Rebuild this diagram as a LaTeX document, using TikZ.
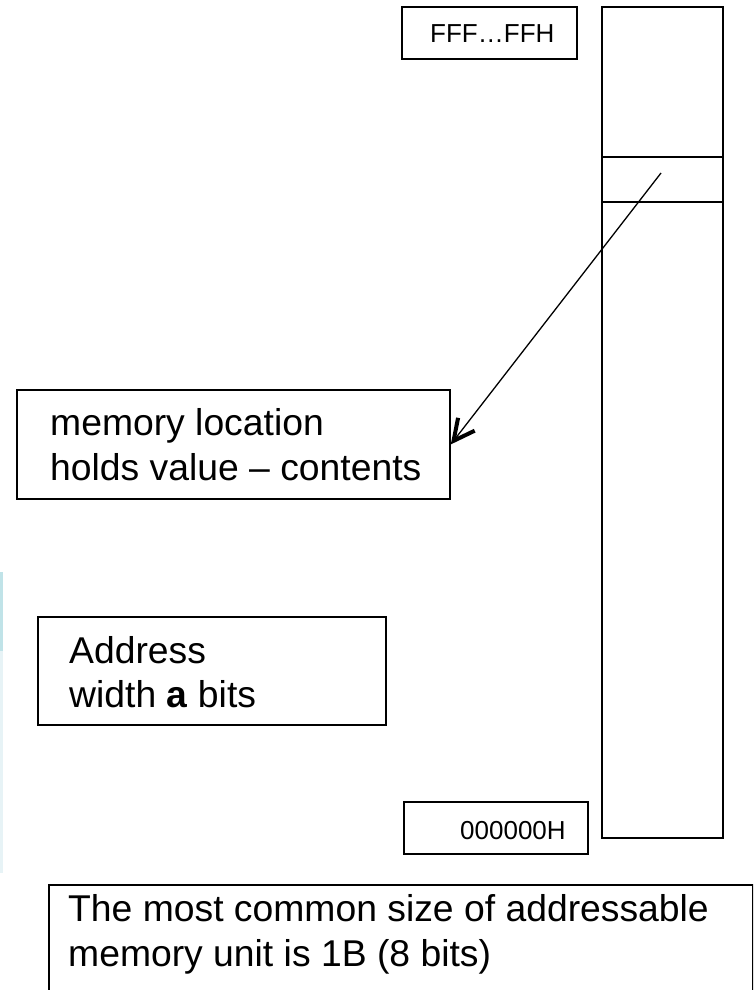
\documentclass[tikz,border=0pt]{standalone}
\usepackage{fontspec}
\setmainfont{Liberation Sans}
\usetikzlibrary{arrows.meta}
\definecolor{stripeA}{RGB}{192,227,232}
\definecolor{stripeB}{RGB}{231,243,246}
\tikzset{
  box/.style={draw=black, line width=1.8pt, rectangle, inner sep=0pt, anchor=north west},
  bigtxt/.style={font=\fontsize{37.3}{45}\selectfont, inner sep=0pt, anchor=base west},
  smalltxt/.style={font=\fontsize{26}{31}\selectfont, inner sep=0pt, anchor=base west},
  pointer/.style={line width=1.3pt, -{Straight Barb[length=21pt,width=21pt,line width=4pt]}}
}
\begin{document}
\begin{tikzpicture}[x=1pt,y=-1pt]
\useasboundingbox (0,0) rectangle (753,990);
\clip (0,0) rectangle (753,990);

% thin coloured strip on the left edge
\fill[stripeA] (0,572) rectangle (3,651);
\fill[stripeB] (0,651) rectangle (3,873);

% memory column with one highlighted cell
\node[box, minimum width=121pt, minimum height=831pt] (mem) at (601,6) {};
\coordinate (cellTop) at (601,157);
\coordinate (cellBot) at (601,202);
\draw[line width=1.4pt] (cellTop) -- (cellTop -| mem.east);
\draw[line width=1.4pt] (cellBot) -- (cellBot -| mem.east);
\coordinate (cellpt) at (661,173);

% address labels
\node[box, minimum width=175pt, minimum height=52pt] (hibox) at (401,6) {};
\node[smalltxt] (hitxt) at (430,43) {FFF…FFH};
\node[box, minimum width=184pt, minimum height=52pt] (lobox) at (403,801) {};
\node[smalltxt] (lotxt) at (460,839) {000000H};

% memory location box
\node[box, minimum width=433pt, minimum height=109pt] (loc) at (16,389) {};
\node[bigtxt] (loc1) at (50,435) {memory location};
\node[bigtxt] (loc2) at (50,480) {holds value – contents};

% address width box
\node[box, minimum width=348pt, minimum height=108pt] (addr) at (37,616) {};
\node[bigtxt] (addr1) at (69,663) {Address};
\node[bigtxt] (addr2) at (69,707) {width \textbf{a} bits};

% bottom note, running past the lower edge
\node[box, minimum width=704pt, minimum height=200pt] (note) at (48,884) {};
\node[bigtxt] (note1) at (68,921) {The most common size of addressable};
\node[bigtxt] (note2) at (68,966) {memory unit is 1B (8 bits)};

% pointer from the cell to its description
\draw[pointer] (cellpt) -- (loc.east);
\end{tikzpicture}
\end{document}
